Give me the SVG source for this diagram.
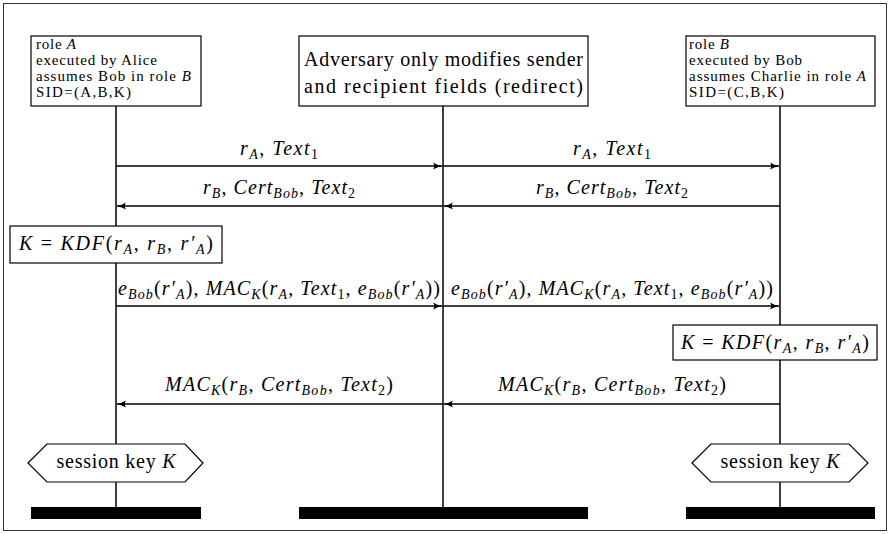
<svg xmlns="http://www.w3.org/2000/svg" width="891" height="534" viewBox="0 0 891 534">
<style>
text{font-family:"Liberation Serif","Times New Roman",serif;fill:#000}
.m{font-size:20px}
.sm{font-size:15px}
.i{font-style:italic}
.s{font-size:14px}
.box{fill:#fff;stroke:#000;stroke-width:1.2}
.life{stroke:#000;stroke-width:1.5}
.msg{stroke:#000;stroke-width:1.3;fill:none}
.bar{fill:#000}
</style>
<defs>
<marker id="ah" markerWidth="10" markerHeight="8" refX="9" refY="4" orient="auto" markerUnits="userSpaceOnUse">
<path d="M0,0.5 Q4,3 9,4 Q4,5 0,7.5 Q2.5,4 0,0.5 z" fill="#000"/>
</marker>
</defs>
<rect x="3.5" y="3.5" width="883" height="527" fill="#fff" stroke="#333" stroke-width="1"/>

<g id="lifelines">
<line class="life" x1="116" y1="106" x2="116" y2="507"/>
<line class="life" x1="443" y1="106" x2="443" y2="507"/>
<line class="life" x1="780" y1="106" x2="780" y2="507"/>
</g>

<g id="instA">
<rect class="box" x="31" y="36" width="170" height="70"/>
<text class="sm" x="36" y="49" textLength="40">role <tspan class="i">A</tspan></text>
<text class="sm" x="36" y="65" textLength="121">executed by Alice</text>
<text class="sm" x="36" y="81" textLength="155">assumes Bob in role <tspan class="i">B</tspan></text>
<text class="sm" x="36" y="97" textLength="95">SID=(A,B,K)</text>
<rect class="bar" x="31" y="507" width="170" height="12"/>
</g>

<g id="instAdv">
<rect class="box" x="299" y="36" width="289" height="70"/>
<text class="m" x="304" y="66" textLength="279">Adversary only modifies sender</text>
<text class="m" x="304" y="93" textLength="279">and recipient fields (redirect)</text>
<rect class="bar" x="299" y="507" width="289" height="12"/>
</g>

<g id="instB">
<rect class="box" x="686" y="36" width="189" height="70"/>
<text class="sm" x="689" y="49" textLength="40">role <tspan class="i">B</tspan></text>
<text class="sm" x="689" y="65" textLength="113">executed by Bob</text>
<text class="sm" x="689" y="81" textLength="177">assumes Charlie in role <tspan class="i">A</tspan></text>
<text class="sm" x="689" y="97" textLength="95">SID=(C,B,K)</text>
<rect class="bar" x="686" y="507" width="189" height="12"/>
</g>

<g id="connectors">
<line class="msg" x1="116" y1="166" x2="442" y2="166" marker-end="url(#ah)"/>
<line class="msg" x1="443" y1="166" x2="779" y2="166" marker-end="url(#ah)"/>
<line class="msg" x1="443" y1="206" x2="117" y2="206" marker-end="url(#ah)"/>
<line class="msg" x1="780" y1="206" x2="444" y2="206" marker-end="url(#ah)"/>
<line class="msg" x1="116" y1="306" x2="442" y2="306" marker-end="url(#ah)"/>
<line class="msg" x1="443" y1="306" x2="779" y2="306" marker-end="url(#ah)"/>
<line class="msg" x1="443" y1="404" x2="117" y2="404" marker-end="url(#ah)"/>
<line class="msg" x1="780" y1="404" x2="444" y2="404" marker-end="url(#ah)"/>
</g>

<g id="labels">
<text class="m" x="279" y="155" text-anchor="middle" textLength="78"><tspan class="i">r</tspan><tspan class="s i" dy="4">A</tspan><tspan dy="-4">, </tspan><tspan class="i">Text</tspan><tspan class="s" dy="4">1</tspan></text>
<text class="m" x="612" y="155" text-anchor="middle" textLength="78"><tspan class="i">r</tspan><tspan class="s i" dy="4">A</tspan><tspan dy="-4">, </tspan><tspan class="i">Text</tspan><tspan class="s" dy="4">1</tspan></text>

<text class="m" x="279" y="194" text-anchor="middle" textLength="152"><tspan class="i">r</tspan><tspan class="s i" dy="4">B</tspan><tspan dy="-4">, </tspan><tspan class="i">Cert</tspan><tspan class="s i" dy="4">Bob</tspan><tspan dy="-4">, </tspan><tspan class="i">Text</tspan><tspan class="s" dy="4">2</tspan></text>
<text class="m" x="612" y="194" text-anchor="middle" textLength="152"><tspan class="i">r</tspan><tspan class="s i" dy="4">B</tspan><tspan dy="-4">, </tspan><tspan class="i">Cert</tspan><tspan class="s i" dy="4">Bob</tspan><tspan dy="-4">, </tspan><tspan class="i">Text</tspan><tspan class="s" dy="4">2</tspan></text>

<text class="m" x="279" y="295" text-anchor="middle" textLength="322"><tspan class="i">e</tspan><tspan class="s i" dy="4">Bob</tspan><tspan dy="-4">(</tspan><tspan class="i">r′</tspan><tspan class="s i" dy="4">A</tspan><tspan dy="-4">), </tspan><tspan class="i">MAC</tspan><tspan class="s i" dy="4">K</tspan><tspan dy="-4">(</tspan><tspan class="i">r</tspan><tspan class="s i" dy="4">A</tspan><tspan dy="-4">, </tspan><tspan class="i">Text</tspan><tspan class="s" dy="4">1</tspan><tspan dy="-4">, </tspan><tspan class="i">e</tspan><tspan class="s i" dy="4">Bob</tspan><tspan dy="-4">(</tspan><tspan class="i">r′</tspan><tspan class="s i" dy="4">A</tspan><tspan dy="-4">))</tspan></text>
<text class="m" x="612" y="295" text-anchor="middle" textLength="322"><tspan class="i">e</tspan><tspan class="s i" dy="4">Bob</tspan><tspan dy="-4">(</tspan><tspan class="i">r′</tspan><tspan class="s i" dy="4">A</tspan><tspan dy="-4">), </tspan><tspan class="i">MAC</tspan><tspan class="s i" dy="4">K</tspan><tspan dy="-4">(</tspan><tspan class="i">r</tspan><tspan class="s i" dy="4">A</tspan><tspan dy="-4">, </tspan><tspan class="i">Text</tspan><tspan class="s" dy="4">1</tspan><tspan dy="-4">, </tspan><tspan class="i">e</tspan><tspan class="s i" dy="4">Bob</tspan><tspan dy="-4">(</tspan><tspan class="i">r′</tspan><tspan class="s i" dy="4">A</tspan><tspan dy="-4">))</tspan></text>

<text class="m" x="279" y="391" text-anchor="middle" textLength="228"><tspan class="i">MAC</tspan><tspan class="s i" dy="4">K</tspan><tspan dy="-4">(</tspan><tspan class="i">r</tspan><tspan class="s i" dy="4">B</tspan><tspan dy="-4">, </tspan><tspan class="i">Cert</tspan><tspan class="s i" dy="4">Bob</tspan><tspan dy="-4">, </tspan><tspan class="i">Text</tspan><tspan class="s" dy="4">2</tspan><tspan dy="-4">)</tspan></text>
<text class="m" x="612" y="391" text-anchor="middle" textLength="228"><tspan class="i">MAC</tspan><tspan class="s i" dy="4">K</tspan><tspan dy="-4">(</tspan><tspan class="i">r</tspan><tspan class="s i" dy="4">B</tspan><tspan dy="-4">, </tspan><tspan class="i">Cert</tspan><tspan class="s i" dy="4">Bob</tspan><tspan dy="-4">, </tspan><tspan class="i">Text</tspan><tspan class="s" dy="4">2</tspan><tspan dy="-4">)</tspan></text>
</g>

<g id="kdfA">
<rect class="box" x="10" y="226" width="212" height="37"/>
<text class="m" x="116" y="250" text-anchor="middle" textLength="194"><tspan class="i">K</tspan> = <tspan class="i">KDF</tspan>(<tspan class="i">r</tspan><tspan class="s i" dy="4">A</tspan><tspan dy="-4">, </tspan><tspan class="i">r</tspan><tspan class="s i" dy="4">B</tspan><tspan dy="-4">, </tspan><tspan class="i">r′</tspan><tspan class="s i" dy="4">A</tspan><tspan dy="-4">)</tspan></text>
</g>

<g id="kdfB">
<rect class="box" x="673" y="325" width="204" height="35"/>
<text class="m" x="775" y="349" text-anchor="middle" textLength="188"><tspan class="i">K</tspan> = <tspan class="i">KDF</tspan>(<tspan class="i">r</tspan><tspan class="s i" dy="4">A</tspan><tspan dy="-4">, </tspan><tspan class="i">r</tspan><tspan class="s i" dy="4">B</tspan><tspan dy="-4">, </tspan><tspan class="i">r′</tspan><tspan class="s i" dy="4">A</tspan><tspan dy="-4">)</tspan></text>
</g>

<g id="keyA">
<polygon class="box" points="28,463 47,444 185,444 203,463 185,482 47,482"/>
<text class="m" x="116" y="468" text-anchor="middle" textLength="119">session key <tspan class="i">K</tspan></text>
</g>

<g id="keyB">
<polygon class="box" points="692,463 711,444 849,444 868,463 849,482 711,482"/>
<text class="m" x="780" y="468" text-anchor="middle" textLength="119">session key <tspan class="i">K</tspan></text>
</g>
</svg>
